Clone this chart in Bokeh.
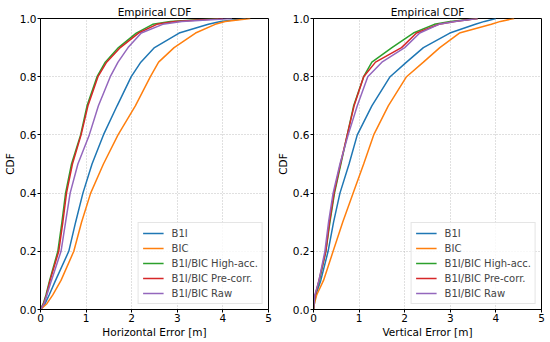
from bokeh.plotting import figure
from bokeh.layouts import row
from bokeh.models import Legend, LegendItem, FixedTicker, PrintfTickFormatter
from bokeh.embed import file_html
from bokeh.resources import INLINE

# CDF levels
levels = [0, 0.02, 0.05, 0.1, 0.2, 0.3, 0.4, 0.5, 0.6, 0.7, 0.8, 0.85, 0.9, 0.95, 0.98, 0.99, 1.0]

series_names = ["B1I", "BIC", "B1I/BIC High-acc.", "B1I/BIC Pre-corr.", "B1I/BIC Raw"]
colors = ["#1f77b4", "#ff7f0e", "#2ca02c", "#d62728", "#9467bd"]

# Horizontal error quantiles [m]
h_b1i = [0, 0.1, 0.19, 0.33, 0.62, 0.77, 0.93, 1.13, 1.38, 1.68, 1.99, 2.2, 2.5, 3.04, 3.68, 3.95, 4.5]
h_bic = [0, 0.14, 0.27, 0.45, 0.73, 0.9, 1.1, 1.38, 1.7, 2.08, 2.41, 2.59, 2.93, 3.4, 3.83, 4.05, 4.6]
h_high = [0, 0.06, 0.12, 0.2, 0.38, 0.47, 0.55, 0.68, 0.88, 1.02, 1.24, 1.42, 1.71, 2.1, 2.46, 2.85, 3.9]
h_pre = [0, 0.07, 0.13, 0.21, 0.4, 0.49, 0.57, 0.7, 0.89, 1.04, 1.26, 1.45, 1.75, 2.15, 2.55, 2.95, 4.0]
h_raw = [0, 0.08, 0.14, 0.24, 0.45, 0.55, 0.65, 0.82, 1.07, 1.27, 1.53, 1.7, 1.92, 2.21, 2.68, 3.1, 4.2]

# Vertical error quantiles [m]
v_b1i = [0, 0.02, 0.05, 0.16, 0.32, 0.44, 0.58, 0.78, 0.96, 1.28, 1.68, 2.04, 2.41, 2.99, 3.55, 3.75, 4.0]
v_bic = [0, 0.02, 0.07, 0.22, 0.43, 0.64, 0.87, 1.1, 1.32, 1.64, 2.04, 2.41, 2.77, 3.2, 3.9, 4.1, 4.4]
v_high = [0, 0.01, 0.04, 0.13, 0.27, 0.36, 0.46, 0.6, 0.74, 0.88, 1.1, 1.28, 1.72, 2.19, 2.65, 3.0, 3.6]
v_pre = [0, 0.01, 0.04, 0.12, 0.27, 0.35, 0.45, 0.59, 0.74, 0.89, 1.1, 1.36, 1.93, 2.26, 2.75, 3.1, 3.6]
v_raw = [0, 0.01, 0.03, 0.12, 0.25, 0.33, 0.43, 0.58, 0.76, 0.96, 1.19, 1.5, 2.0, 2.33, 2.75, 3.1, 3.6]

x_ticks = [0, 1, 2, 3, 4, 5]
y_ticks = [0.0, 0.2, 0.4, 0.6, 0.8, 1.0]
FONT = "DejaVu Sans"


def make_fig(xlabel, data, width, border_left, border_right):
    p = figure(width=width, height=342, x_range=(0, 5), y_range=(0, 1),
               output_backend="svg", toolbar_location=None,
               min_border_left=border_left, min_border_right=border_right,
               min_border_top=18, min_border_bottom=33)
    p.title.text = "Empirical CDF"
    p.title.align = "center"
    p.title.text_font = FONT
    p.title.text_font_size = "10.5px"
    p.title.text_font_style = "normal"
    p.title.text_color = "#000000"
    p.title.offset = 0
    p.title.standoff = 2

    for ax in (p.xaxis, p.yaxis):
        ax.major_label_text_font = FONT
        ax.major_label_text_font_size = "10.5px"
        ax.major_label_text_color = "#000000"
        ax.axis_label_text_font = FONT
        ax.axis_label_text_font_size = "10.5px"
        ax.axis_label_text_font_style = "normal"
        ax.axis_label_text_color = "#000000"
        ax.minor_tick_line_color = None
        ax.major_tick_line_color = "#000000"
        ax.major_tick_in = 0
        ax.major_tick_out = 3
        ax.axis_line_color = "#000000"
        ax.major_label_standoff = 1
        ax.axis_label_standoff = 1
    p.xaxis[0].ticker = FixedTicker(ticks=x_ticks)
    p.yaxis[0].ticker = FixedTicker(ticks=y_ticks)
    p.yaxis[0].formatter = PrintfTickFormatter(format="%.1f")
    p.xaxis[0].formatter = PrintfTickFormatter(format="%d")
    p.xaxis.axis_label = xlabel
    p.yaxis.axis_label = "CDF"

    p.grid.grid_line_color = "#b0b0b0"
    p.grid.grid_line_dash = "1 2"
    p.grid.grid_line_width = 0.8
    p.outline_line_color = "#000000"
    p.outline_line_width = 1
    p.outline_line_alpha = 1
    p.background_fill_color = "white"
    p.border_fill_color = "white"

    items = []
    for name, col, xs in zip(series_names, colors, data):
        r = p.line(xs, levels, line_color=col, line_width=1.5)
        items.append(LegendItem(label=name, renderers=[r]))
    leg = Legend(items=items, location="bottom_right")
    leg.label_text_font = FONT
    leg.label_text_font_size = "10px"
    leg.label_height = 12
    leg.glyph_height = 12
    leg.glyph_width = 21
    leg.spacing = 3
    leg.padding = 4
    leg.margin = 5
    leg.label_standoff = 8
    leg.border_line_color = "#cccccc"
    leg.border_line_width = 1
    leg.background_fill_alpha = 0.8
    p.add_layout(leg)
    return p


p1 = make_fig("Horizontal Error [m]", [h_b1i, h_bic, h_high, h_pre, h_raw], 273, 39, 5)
p2 = make_fig("Vertical Error [m]", [v_b1i, v_bic, v_high, v_pre, v_raw], 277, 39, 9)

layout = row(p1, p2)
open("out.html", "w").write(file_html(layout, INLINE))
